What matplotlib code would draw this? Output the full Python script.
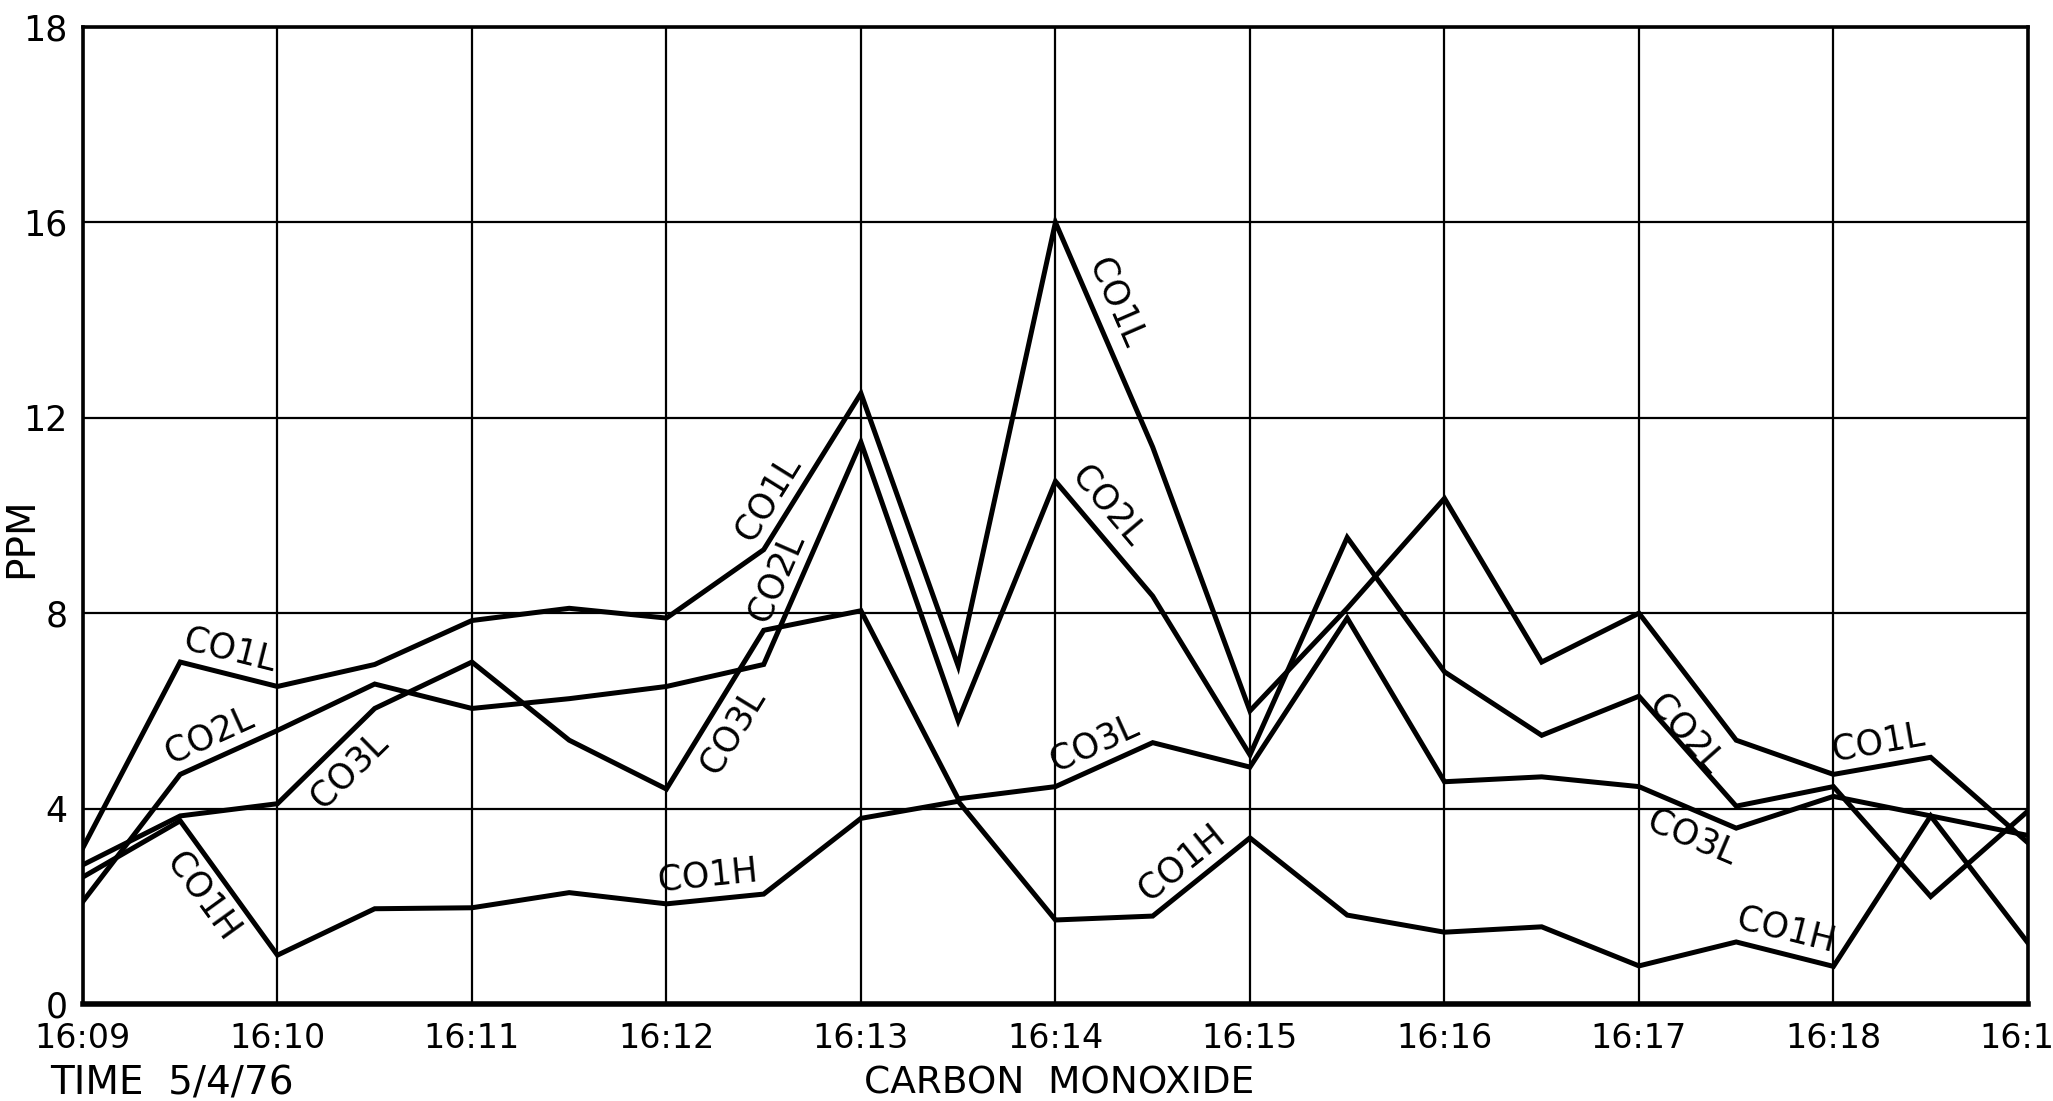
import numpy as np
import matplotlib.pyplot as plt
from matplotlib import font_manager

# half-minute readings, 16:09 .. 16:19
minutes = [i * 0.5 for i in range(21)]
time_labels = ['16:09', '16:10', '16:11', '16:12', '16:13', '16:14',
               '16:15', '16:16', '16:17', '16:18', '16:19']
ytick_vals = [0, 4, 8, 12, 16, 20]
ytick_labels = ['0', '4', '8', '12', '16', '18']

co1l = [3.2, 7.0, 6.5, 6.95, 7.85, 8.1, 7.9, 9.3, 12.5, 6.92, 16.0,
        11.4, 6.0, 8.1, 10.35, 7.0, 8.0, 5.4, 4.7, 5.05, 3.3]
co2l = [2.1, 4.7, 5.6, 6.55, 6.05, 6.25, 6.5, 6.95, 11.5, 5.8, 10.7,
        8.35, 5.1, 9.55, 6.8, 5.5, 6.3, 4.05, 4.45, 2.2, 3.95]
co3l = [2.85, 3.85, 4.1, 6.05, 7.0, 5.4, 4.4, 7.65, 8.05, 4.2, 4.45,
        5.35, 4.85, 7.9, 4.55, 4.65, 4.45, 3.6, 4.25, 3.85, 3.45]
co1h = [2.6, 3.75, 1.0, 1.95, 1.97, 2.28, 2.05, 2.25, 3.8, 4.15, 1.72,
        1.8, 3.4, 1.82, 1.47, 1.58, 0.78, 1.27, 0.77, 3.85, 1.25]

series = {'CO1L': co1l, 'CO2L': co2l, 'CO3L': co3l, 'CO1H': co1h}

# (series, segment start index, position along segment, offset px)
labels = [
    ('CO1L', 1, 0.45, 24), ('CO2L', 1, 0.40, 24), ('CO3L', 2, 0.55, -26),
    ('CO1H', 1, 0.45, -26), ('CO1L', 7, 0.25, 24), ('CO2L', 7, 0.35, 24),
    ('CO3L', 6, 0.45, -26), ('CO1H', 6, 0.45, 24), ('CO1L', 10, 0.40, 24),
    ('CO2L', 10, 0.35, 24), ('CO3L', 10, 0.50, 24), ('CO1H', 11, 0.45, 24),
    ('CO2L', 16, 0.40, 10), ('CO3L', 16, 0.65, -26), ('CO1L', 18, 0.50, 24),
    ('CO1H', 17, 0.45, 24),
]

plt.rcParams['font.family'] = ['DejaVu Sans']
names = {f.name for f in font_manager.fontManager.ttflist}
tick_family = 'Liberation Sans Narrow' if 'Liberation Sans Narrow' in names else 'DejaVu Sans'

fig = plt.figure(figsize=(20.53, 11.01), dpi=100)
ax = fig.add_axes([0.0404, 0.0881, 0.9474, 0.8874])

for name, vals in series.items():
    ax.plot(minutes, vals, color='black', lw=3.6, solid_joinstyle='miter', zorder=3)

ax.set_xlim(0, 10)
ax.set_ylim(0, 20)
ax.set_xticks(range(11))
ax.set_xticklabels(time_labels, fontsize=28 if tick_family != 'DejaVu Sans' else 24,
                   family=tick_family)
ax.set_yticks(ytick_vals)
ax.set_yticklabels(ytick_labels, fontsize=25)
ax.tick_params(axis='x', length=0, pad=13)
ax.tick_params(axis='y', length=0, pad=11)
ax.grid(True, color='black', lw=1.6)
ax.set_axisbelow(True)
for s in ax.spines.values():
    s.set_linewidth(2.6)
ax.spines['bottom'].set_linewidth(4)


def label_on(ax, xs, ys, i, t, text, off):
    p0 = ax.transData.transform((xs[i], ys[i]))
    p1 = ax.transData.transform((xs[i + 1], ys[i + 1]))
    d = p1 - p0
    ang = np.degrees(np.arctan2(d[1], d[0]))
    n = np.array([-d[1], d[0]]) / np.hypot(d[0], d[1])
    p = p0 + t * d + off * n
    xd, yd = ax.transData.inverted().transform(p)
    ax.text(xd, yd, text, rotation=ang, rotation_mode='anchor',
            ha='center', va='center', fontsize=25, zorder=4)


for name, i, t, off in labels:
    label_on(ax, minutes, series[name], i, t, name, off)

fig.text(0.0102, 0.512, 'PPM', rotation=90, ha='center', va='center', fontsize=28)
fig.text(0.0244, 0.0155, 'TIME  5/4/76', ha='left', va='center', fontsize=28)
fig.text(0.516, 0.0155, 'CARBON  MONOXIDE', ha='center', va='center', fontsize=27)

fig.savefig('out.png', dpi=100, facecolor='white')
